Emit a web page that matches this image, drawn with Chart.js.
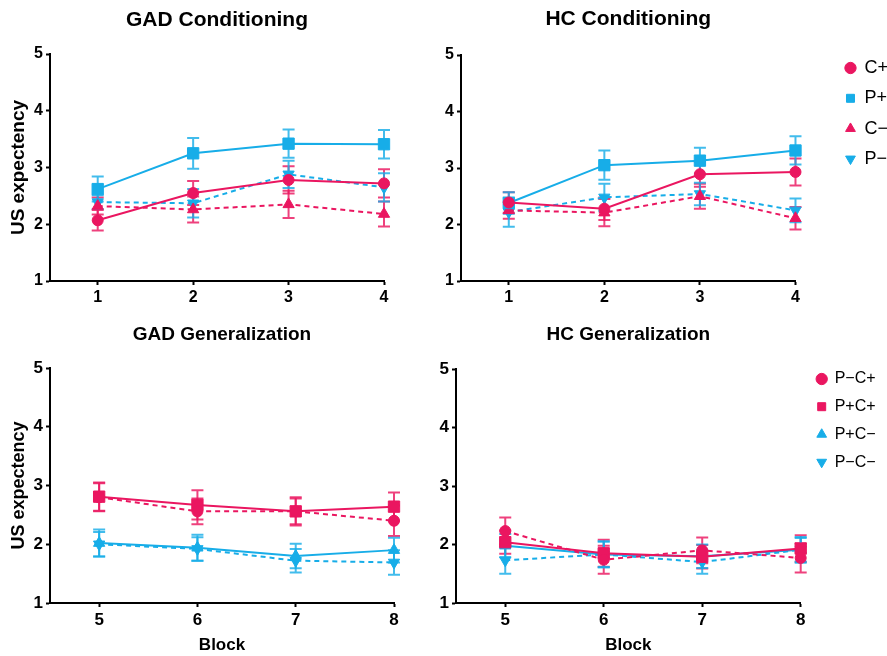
<!DOCTYPE html>
<html>
<head>
<meta charset="utf-8">
<script src="https://cdn.jsdelivr.net/npm/chart.js@4.4.1/dist/chart.umd.min.js"></script>
<style>
  html, body { margin: 0; padding: 0; background: #fff; width: 887px; height: 656px; overflow: hidden; }
  canvas { position: absolute; }
</style>
</head>
<body>
<canvas id="gadCond" width="410" height="310" style="left:0;top:0"></canvas>
<canvas id="hcCond" width="478" height="310" style="left:420px;top:0"></canvas>
<canvas id="gadGen" width="410" height="346" style="left:0;top:310px"></canvas>
<canvas id="hcGen" width="473" height="346" style="left:420px;top:310px"></canvas>
<script>
const RED = '#EA1660';
const BLUE = '#17ADE8';
const FONT = 'Arial, "Liberation Sans", sans-serif';

// blocks / labels
const condBlocks = [1, 2, 3, 4];
const genBlocks = [5, 6, 7, 8];
const condLabels = ['C+', 'P+', 'C\u2212', 'P\u2212'];
const genLabels = ['P\u2212C+', 'P+C+', 'P+C\u2212', 'P\u2212C\u2212'];

// GAD conditioning (mean, error)
const gadCondCPlus = [2.07, 2.55, 2.78, 2.72];
const gadCondCPlusErr = [0.18, 0.21, 0.24, 0.25];
const gadCondPPlus = [2.62, 3.25, 3.42, 3.41];
const gadCondPPlusErr = [0.22, 0.27, 0.25, 0.25];
const gadCondCMinus = [2.32, 2.26, 2.35, 2.18];
const gadCondCMinusErr = [0.15, 0.23, 0.24, 0.22];
const gadCondPMinus = [2.39, 2.37, 2.88, 2.65];
const gadCondPMinusErr = [0.12, 0.25, 0.24, 0.25];

// HC conditioning
const hcCondCPlus = [2.39, 2.28, 2.89, 2.93];
const hcCondCPlusErr = [0.18, 0.20, 0.22, 0.24];
const hcCondPPlus = [2.38, 3.05, 3.13, 3.31];
const hcCondPPlusErr = [0.19, 0.26, 0.23, 0.25];
const hcCondCMinus = [2.25, 2.21, 2.50, 2.11];
const hcCondCMinusErr = [0.15, 0.24, 0.22, 0.20];
const hcCondPMinus = [2.22, 2.48, 2.54, 2.25];
const hcCondPMinusErr = [0.26, 0.24, 0.20, 0.21];

// GAD generalization
const gadGenPmCp = [2.80, 2.56, 2.56, 2.40];
const gadGenPmCpErr = [0.24, 0.22, 0.22, 0.26];
const gadGenPpCp = [2.81, 2.67, 2.56, 2.64];
const gadGenPpCpErr = [0.24, 0.25, 0.24, 0.24];
const gadGenPpCm = [2.02, 1.94, 1.80, 1.90];
const gadGenPpCmErr = [0.23, 0.22, 0.21, 0.21];
const gadGenPmCm = [2.00, 1.92, 1.72, 1.69];
const gadGenPmCmErr = [0.21, 0.20, 0.20, 0.21];

// HC generalization
const hcGenPmCp = [2.23, 1.74, 1.90, 1.77];
const hcGenPmCpErr = [0.23, 0.24, 0.22, 0.25];
const hcGenPpCp = [2.04, 1.85, 1.79, 1.93];
const hcGenPpCpErr = [0.20, 0.23, 0.20, 0.23];
const hcGenPpCm = [1.98, 1.83, 1.80, 1.91];
const hcGenPpCmErr = [0.20, 0.22, 0.20, 0.22];
const hcGenPmCm = [1.73, 1.83, 1.70, 1.91];
const hcGenPmCmErr = [0.23, 0.22, 0.20, 0.20];

// series styles
const condColors = [RED, BLUE, RED, BLUE];
const condDashed = [false, false, true, true];
const genColors = [RED, RED, BLUE, BLUE];
const genDashed = [true, false, false, true];
const markerStyles = ['circle', 'rect', 'triangle', 'triangle'];
const markerRotations = [0, 0, 0, 180];
const markerRadius = { circle: 5.5, rect: 8, triangle: 6.5 };

// error bars drawn from the dataset's errors array
const errorBars = {
  id: 'errorBars',
  beforeDatasetsDraw(chart) {
    const { ctx } = chart;
    const x = chart.scales.x, y = chart.scales.y;
    chart.data.datasets.forEach(ds => {
      ctx.save();
      ctx.strokeStyle = ds.errColor;
      ctx.lineWidth = 2;
      ds.data.forEach((p, j) => {
        const e = ds.errors[j];
        const px = x.getPixelForValue(p.x);
        const top = y.getPixelForValue(p.y + e);
        const bot = y.getPixelForValue(p.y - e);
        ctx.beginPath();
        ctx.moveTo(px, top); ctx.lineTo(px, bot);
        ctx.moveTo(px - 6, top); ctx.lineTo(px + 6, top);
        ctx.moveTo(px - 6, bot); ctx.lineTo(px + 6, bot);
        ctx.stroke();
      });
      ctx.restore();
    });
  }
};

function panel(id, o) {
  const datasets = o.series.map((vals, i) => ({
    label: o.labels[i],
    data: o.blocks.map((b, j) => ({ x: b, y: vals[j] })),
    errors: o.errors[i],
    errColor: o.colors[i] + 'D0',
    xAxisID: 'x',
    yAxisID: 'y',
    borderColor: o.colors[i],
    backgroundColor: o.colors[i],
    borderWidth: 2,
    borderDash: o.dashed[i] ? [5, 4] : [],
    pointStyle: markerStyles[i],
    pointRotation: markerRotations[i],
    pointRadius: markerRadius[markerStyles[i]],
    pointBorderWidth: 1,
    clip: false,
    tension: 0
  }));

  const tickGrid = { display: true, drawOnChartArea: false, drawTicks: true, tickLength: 4, tickWidth: 2, tickColor: '#000' };
  const axisBorder = { display: true, color: '#000', width: 2 };

  const scales = {
    x: {
      type: 'linear',
      min: o.blocks[0] - 0.5,
      max: o.blocks[o.blocks.length - 1],
      afterBuildTicks: s => { s.ticks = o.blocks.map(v => ({ value: v })); },
      afterFit: s => { s.height = o.xHeight; },
      grid: tickGrid,
      border: axisBorder,
      ticks: { color: '#000', padding: 3, maxRotation: 0, callback: v => String(v),
               font: { family: FONT, size: o.tickSize, weight: 'bold' } },
      title: o.xTitle
        ? { display: true, text: o.xTitle, color: '#000', padding: { top: 0, bottom: 0.8 },
            font: { family: FONT, size: 17, weight: 'bold', lineHeight: 1.2 } }
        : { display: false }
    },
    y: {
      type: 'linear',
      min: 1,
      max: 5,
      afterFit: s => { s.width = o.yWidth; },
      grid: tickGrid,
      border: axisBorder,
      ticks: { stepSize: 1, color: '#000', padding: 3,
               font: { family: FONT, size: o.tickSize, weight: 'bold' } },
      title: o.yTitle
        ? { display: true, text: o.yTitle, color: '#000', padding: { top: o.yTitlePad, bottom: 0 },
            font: { family: FONT, size: o.yTitleSize, weight: 'bold', lineHeight: 1.2 } }
        : { display: false }
    }
  };
  if (o.legend) {
    scales.gap = {
      type: 'linear', position: 'right', display: true,
      grid: { display: false }, border: { display: false }, ticks: { display: false },
      afterFit: s => { s.width = o.gap; }
    };
  }

  return new Chart(document.getElementById(id), {
    type: 'line',
    data: { datasets },
    plugins: [errorBars],
    options: {
      responsive: false,
      animation: false,
      devicePixelRatio: 1,
      events: [],
      layout: { padding: { left: 0, right: o.padRight, top: 0, bottom: 0 } },
      scales,
      plugins: {
        tooltip: { enabled: false },
        title: {
          display: true, text: o.title, fullSize: false, color: '#000',
          font: { family: FONT, size: o.titleSize, weight: 'bold', lineHeight: 1.2 },
          padding: { top: o.titleTop, bottom: o.titleBottom }
        },
        legend: o.legend ? {
          display: true, position: 'right', align: 'start',
          title: { display: true, text: ' ', font: { size: 10, lineHeight: 1 },
                   padding: { top: o.legendTop - 10, bottom: 0 } },
          labels: { usePointStyle: true, boxWidth: 10, boxHeight: 8, padding: o.legendPad,
                    color: '#000', font: { family: FONT, size: o.legendSize } }
        } : { display: false }
      }
    }
  });
}

panel('gadCond', {
  title: 'GAD Conditioning', titleSize: 21, titleTop: 7.4, titleBottom: 21.4,
  blocks: condBlocks, labels: condLabels, colors: condColors, dashed: condDashed,
  series: [gadCondCPlus, gadCondPPlus, gadCondCMinus, gadCondPMinus],
  errors: [gadCondCPlusErr, gadCondPPlusErr, gadCondCMinusErr, gadCondPMinusErr],
  yWidth: 50, yTitle: 'US expectency', yTitleSize: 19, yTitlePad: 7.6,
  xHeight: 29, tickSize: 16, padRight: 26
});

panel('hcCond', {
  title: 'HC Conditioning', titleSize: 21, titleTop: 6.9, titleBottom: 22.9,
  blocks: condBlocks, labels: condLabels, colors: condColors, dashed: condDashed,
  series: [hcCondCPlus, hcCondPPlus, hcCondCMinus, hcCondPMinus],
  errors: [hcCondCPlusErr, hcCondPPlusErr, hcCondCMinusErr, hcCondPMinusErr],
  yWidth: 41, xHeight: 29, tickSize: 16, padRight: 0,
  legend: true, legendSize: 18, legendPad: 12.3, legendTop: 46.7, gap: 37.7
});

panel('gadGen', {
  title: 'GAD Generalization', titleSize: 19, titleTop: 13.6, titleBottom: 21.6,
  blocks: genBlocks, labels: genLabels, colors: genColors, dashed: genDashed,
  series: [gadGenPmCp, gadGenPpCp, gadGenPpCm, gadGenPmCm],
  errors: [gadGenPmCpErr, gadGenPpCpErr, gadGenPpCmErr, gadGenPmCmErr],
  yWidth: 50, yTitle: 'US expectency', yTitleSize: 18, yTitlePad: 8.7,
  xHeight: 53, xTitle: 'Block', tickSize: 17, padRight: 16
});

panel('hcGen', {
  title: 'HC Generalization', titleSize: 19, titleTop: 13.6, titleBottom: 22.6,
  blocks: genBlocks, labels: genLabels, colors: genColors, dashed: genDashed,
  series: [hcGenPmCp, hcGenPpCp, hcGenPpCm, hcGenPmCm],
  errors: [hcGenPmCpErr, hcGenPpCpErr, hcGenPpCmErr, hcGenPmCmErr],
  yWidth: 36, xHeight: 53, xTitle: 'Block', tickSize: 17, padRight: 11,
  legend: true, legendSize: 16, legendPad: 11.7, legendTop: 49.3, gap: 4.3
});
</script>
</body>
</html>
